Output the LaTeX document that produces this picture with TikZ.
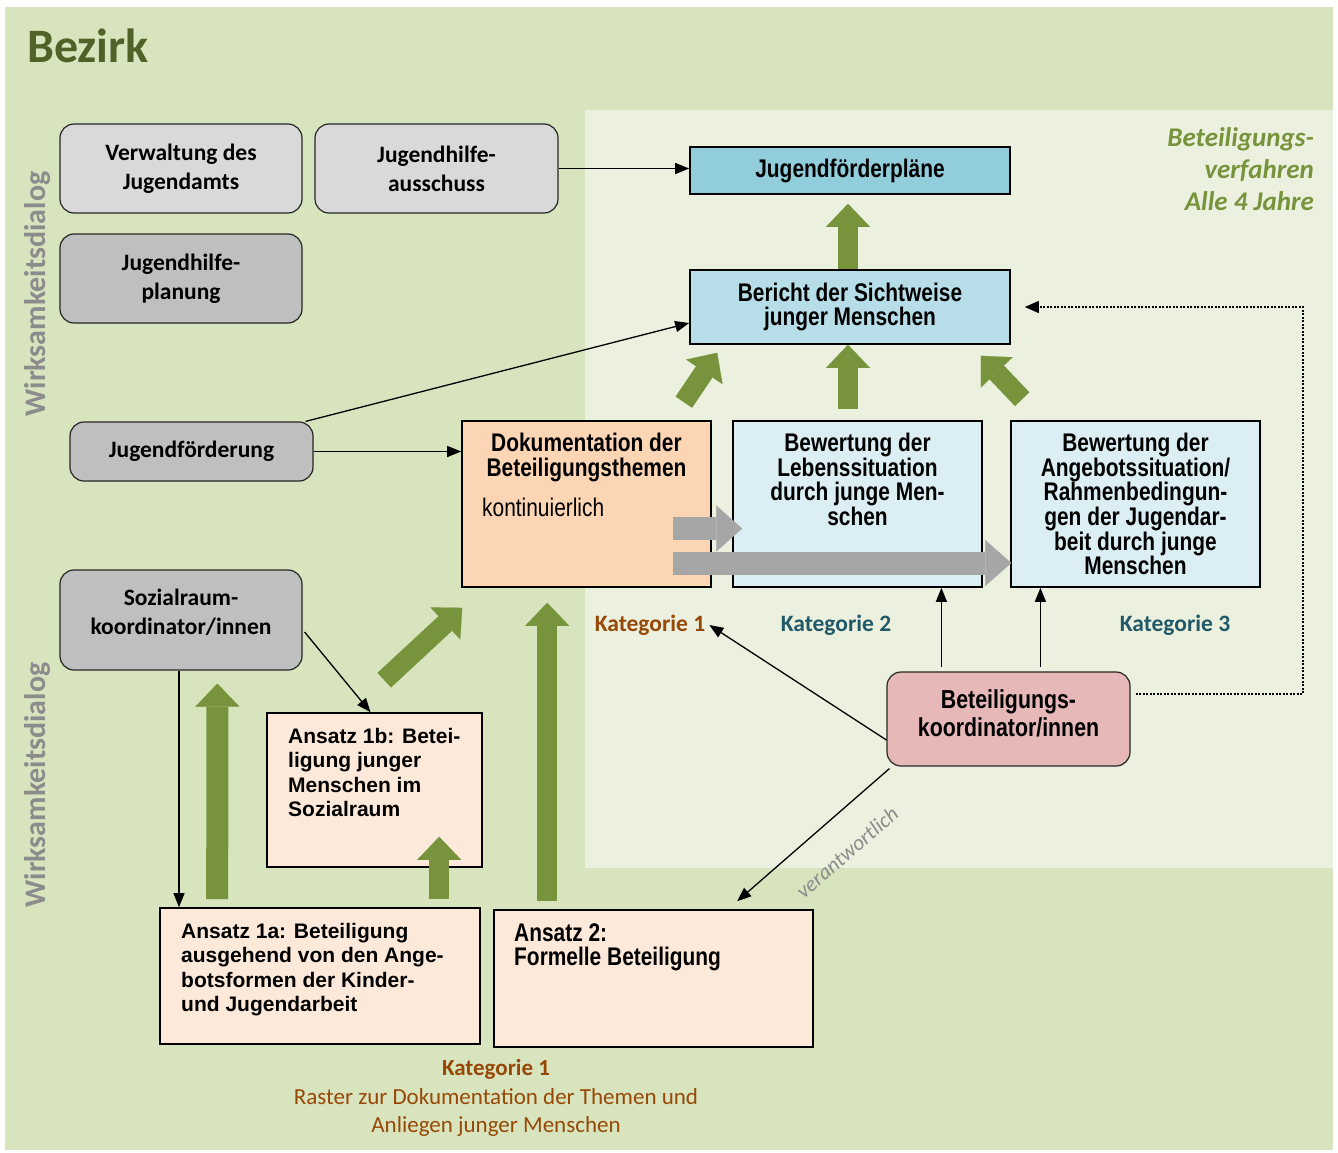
\documentclass[tikz,border=0pt]{standalone}
\usepackage{fontspec}
\setmainfont{Carlito}
\newfontfamily\arialfont{Liberation Sans}
\newfontfamily\narrowfont[FakeStretch=0.82]{Liberation Sans}
\usetikzlibrary{arrows.meta,calc}

\definecolor{outergreen}{HTML}{D7E4BD}
\definecolor{innergreen}{HTML}{EBF1DE}
\definecolor{titlegreen}{HTML}{4F6228}
\definecolor{arrowgreen}{HTML}{77933C}
\definecolor{arrowgray}{HTML}{A6A6A6}
\definecolor{boxlight}{HTML}{D9D9D9}
\definecolor{boxdark}{HTML}{BFBFBF}
\definecolor{planblue}{HTML}{92CDDC}
\definecolor{reportblue}{HTML}{B7DEE8}
\definecolor{ratingblue}{HTML}{DBEEF4}
\definecolor{docorange}{HTML}{FCD5B4}
\definecolor{approachrose}{HTML}{FDE9D9}
\definecolor{coordred}{HTML}{E6B9B8}
\definecolor{katbrown}{HTML}{974806}
\definecolor{katteal}{HTML}{215968}
\definecolor{dialoggray}{HTML}{8C8C8C}

\begin{document}
\begin{tikzpicture}[x=1pt,y=-1pt,
  roundbox/.style={draw=black!85,line width=1.2pt,rounded corners=14pt,inner sep=0pt,
    align=center,font=\fontsize{23.5}{29}\selectfont\bfseries},
  squarebox/.style={draw=black,line width=1.6pt,inner sep=0pt,align=center,
    font=\narrowfont\fontsize{25.5}{24.5}\selectfont\bfseries},
  narrowtext/.style={inner sep=0pt,align=center,font=\narrowfont\fontsize{25.5}{24.6}\selectfont\bfseries},
  ariatext/.style={inner sep=0pt,align=left,font=\arialfont\fontsize{21}{24.5}\selectfont\bfseries},
  katlabel/.style={inner sep=4pt,font=\fontsize{23.5}{28}\selectfont\bfseries},
  dialog/.style={rotate=90,inner sep=0pt,text=dialoggray,font=\fontsize{30}{32}\selectfont\bfseries},
  arr/.style={line width=1.3pt,-{Triangle[length=14pt,width=11pt]}},
  dotarr/.style={line width=1.3pt,dash pattern=on 2pt off 1.5pt,-{Triangle[length=14pt,width=12pt]}},
  greenarr/.style={draw=arrowgreen,line width=20pt,-{Triangle[length=23pt,width=44pt,line width=0.1pt]}},
  grayarr/.style={draw=arrowgray,line width=23pt,-{Triangle[length=26pt,width=46pt,line width=0.1pt]}}]

  % background areas
  \fill[white] (0,0) rectangle (1338,1153);
  \useasboundingbox (0,0) rectangle (1338,1153);
  \fill[outergreen] (5,7) rectangle (1333,1150);
  \fill[innergreen] (585,110) rectangle (1333,868);

  \node[anchor=base west,inner sep=0pt,text=titlegreen,font=\fontsize{48}{50}\selectfont\bfseries]
    (title) at (27,63) {Bezirk};
  \node[anchor=north east,inner sep=0pt,align=right,text=arrowgreen,
    font=\fontsize{27}{32}\selectfont\bfseries\itshape] (cycle) at (1314,127)
    {Beteiligungs-\\verfahren\\Alle 4 Jahre};
  \node[dialog] (dialogtop) at (38,294) {Wirksamkeitsdialog};
  \node[dialog] (dialogbottom) at (38,785) {Wirksamkeitsdialog};

  % district boxes
  \node[roundbox,fill=boxlight,minimum width=242pt,minimum height=89pt] (verw) at (181,168.5)
    {Verwaltung des\\Jugendamts};
  \node[roundbox,fill=boxlight,minimum width=243pt,minimum height=89pt] (ausschuss) at (436.5,168.5)
    {Jugendhilfe-\\ausschuss};
  \node[roundbox,fill=boxdark,minimum width=242pt,minimum height=89pt] (planung) at (181,278.5)
    {Jugendhilfe-\\planung};
  \node[roundbox,fill=boxdark,minimum width=243pt,minimum height=59pt] (foerd) at (191.5,451.5)
    {Jugendförderung};
  \node[roundbox,fill=boxdark,minimum width=242pt,minimum height=100pt,text depth=16pt] (sozial) at (181,620)
    {Sozialraum-\\koordinator/innen};

  % procedure boxes
  \node[squarebox,fill=planblue,minimum width=320pt,minimum height=47pt] (plaene) at (850,170.5)
    {Jugendförderpläne};
  \node[squarebox,fill=reportblue,minimum width=320pt,minimum height=74pt] (bericht) at (850,307)
    {Bericht der Sichtweise\\junger Menschen};
  \node[squarebox,fill=docorange,minimum width=249pt,minimum height=166pt] (doku) at (586.5,504) {};
  \node[squarebox,fill=ratingblue,minimum width=249pt,minimum height=166pt] (leben) at (857.5,504) {};
  \node[squarebox,fill=ratingblue,minimum width=249pt,minimum height=166pt] (angebot) at (1135.5,504) {};
  \node[roundbox,fill=coordred,minimum width=243pt,minimum height=94pt,text depth=12pt,
    font=\narrowfont\fontsize{26}{28}\selectfont\bfseries] (bkoord) at (1008.5,719)
    {Beteiligungs-\\koordinator/innen};
  \node[squarebox,fill=approachrose,minimum width=215pt,minimum height=154pt] (ansatzB) at (374.5,790) {};
  \node[squarebox,fill=approachrose,minimum width=320pt,minimum height=136pt] (ansatzA) at (320,976) {};
  \node[squarebox,fill=approachrose,minimum width=319pt,minimum height=137pt] (ansatz2) at (653.5,978.5) {};

  % box texts
  \node[narrowtext,anchor=north] (dokutext) at (586.5,433) {Dokumentation der\\Beteiligungsthemen};
  \node[inner sep=0pt,anchor=base west,font=\narrowfont\fontsize{25.5}{26}\selectfont]
    (dokunote) at (482,516) {kontinuierlich};
  \node[narrowtext,anchor=north] (lebentext) at (857.5,433)
    {Bewertung der\\Lebenssituation\\durch junge Men-\\schen};
  \node[narrowtext,anchor=north] (angebottext) at (1135.5,433)
    {Bewertung der\\Angebotssituation/\\Rahmenbedingun-\\gen der Jugendar-\\beit durch junge\\Menschen};
  \node[ariatext,anchor=north west] (ansatzBtext) at (288,728)
    {Ansatz 1b: Betei-\\ligung junger\\Menschen im\\Sozialraum};
  \node[ariatext,anchor=north west] (ansatzAtext) at (181,923)
    {Ansatz 1a: Beteiligung\\ausgehend von den Ange-\\botsformen der Kinder-\\und Jugendarbeit};
  \node[narrowtext,align=left,anchor=north west] (ansatz2text) at (514,923)
    {Ansatz 2:\\Formelle Beteiligung};

  \node[katlabel,text=katbrown] (kat1) at (650,625) {Kategorie 1};
  \node[katlabel,text=katteal] (kat2) at (836,625) {Kategorie 2};
  \node[katlabel,text=katteal] (kat3) at (1175,625) {Kategorie 3};
  \node[inner sep=0pt,align=center,text=katbrown,font=\fontsize{23}{28.5}\selectfont] (raster) at (496,1098)
    {\bfseries Kategorie 1\\Raster zur Dokumentation der Themen und\\Anliegen junger Menschen};

  % green flow arrows
  \draw[greenarr] ($(bericht.north)+(-2,0)$) -- ($(plaene.south)+(-2,9)$);
  \draw[greenarr] ($(doku.north east)+(-28,-18)$) -- ($(bericht.south west)+(28,8)$);
  \draw[greenarr] ($(leben.north)+(-9.5,-11)$) -- ($(bericht.south)+(-2,0)$);
  \draw[greenarr] ($(angebot.north west)+(12,-21)$) -- ($(bericht.south east)+(-30,11)$);
  \draw[greenarr,line width=22pt] ($(ansatzA.north west)+(58,-8)$) -- ($(sozial.south west)+(158,13)$);
  \draw[greenarr] ($(ansatzA.north west)+(280,-8)$) -- ($(ansatzB.south west)+(173,-31)$);
  \draw[greenarr] ($(ansatz2.north west)+(54,-8)$) -- ($(doku.south west)+(86,15)$);
  \draw[greenarr] ($(ansatzB.north west)+(118,-32)$) -- ($(doku.south west)+(1,20)$);

  % gray arrows
  \draw[grayarr] ($(doku.east)+(-39,24.5)$) -- ($(leben.west)+(10,24.5)$);
  \draw[grayarr] ($(doku.east)+(-39,59)$) -- ($(angebot.west)+(1,59)$);

  % black connectors
  \draw[arr] (ausschuss.east) -- (ausschuss.east -| plaene.west);
  \draw[arr] ($(foerd.north east)+(-8,0)$) -- ($(bericht.west)+(0,16)$);
  \draw[arr] (foerd.east) -- (foerd.east -| doku.west);
  \draw[arr] ($(sozial.south)+(-2,0)$) coordinate (s1) -- (s1 |- ansatzA.north);
  \draw[arr] ($(sozial.east)+(2,12)$) -- ($(ansatzB.north)+(-4,0)$);
  \draw[arr] ($(bkoord.west)+(0,21)$) -- (kat1.east);
  \draw[arr] ($(bkoord.north west)+(55,-4)$) coordinate (u1) -- (u1 |- leben.south);
  \draw[arr] ($(bkoord.north west)+(154,-4)$) coordinate (u2) -- (u2 |- angebot.south);
  \draw[arr] ($(bkoord.south west)+(3,2)$) -- node[pos=0.43,sloped,below=27pt,inner sep=0pt,
    text=dialoggray,font=\fontsize{21.5}{23}\selectfont\itshape] (verantw) {verantwortlich}
    ($(ansatz2.north west)+(244,-8)$);
  \coordinate (dotcorner) at (1303,694);
  \draw[dotarr] ($(bkoord.east |- dotcorner)+(5,0)$) -- (dotcorner) -- (dotcorner |- bericht.east)
    -- ($(bericht.east)+(14,0)$);
\end{tikzpicture}
\end{document}
